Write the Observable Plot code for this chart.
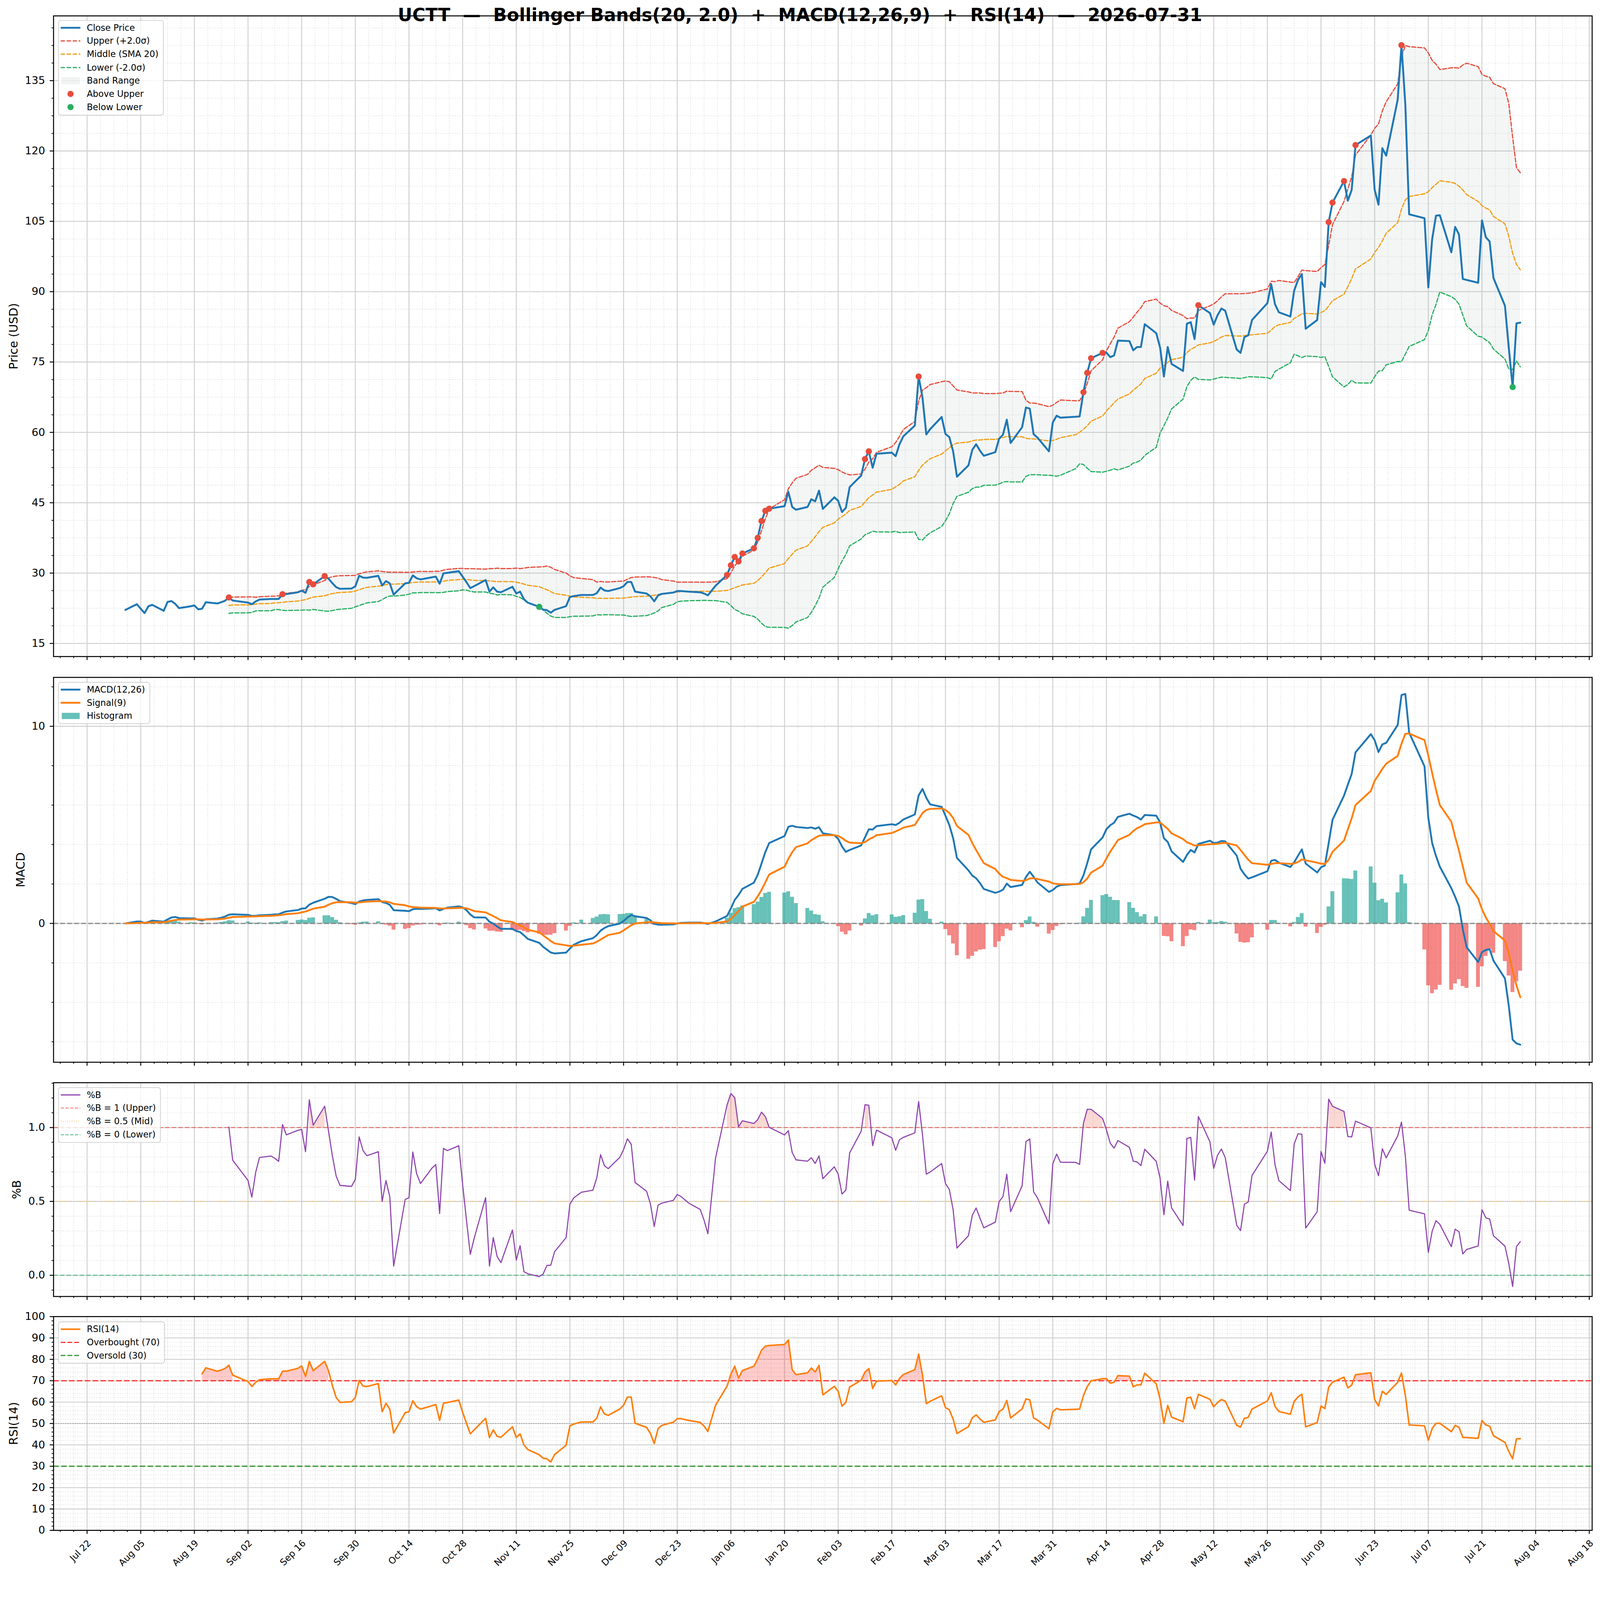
<!DOCTYPE html>
<html><head><meta charset="utf-8">
<script src="https://cdn.jsdelivr.net/npm/d3@7"></script>
<script src="https://cdn.jsdelivr.net/npm/@observablehq/plot@0.6"></script>
<style>
html,body{margin:0;padding:0;background:#fff;overflow:hidden;}
#fig{position:relative;width:4378px;height:4322px;font-family:"DejaVu Sans",sans-serif;overflow:hidden;background:#fff;transform-origin:0 0;}
.legend{position:absolute;left:159px;background:rgba(255,255,255,0.8);border:2.5px solid #d0d0d0;border-radius:7px;padding:0.5px 12px 2px 4.5px;font-size:24px;line-height:1;z-index:5;color:#000;}
.lrow{display:flex;align-items:center;height:36.3px;white-space:nowrap;}
.lrow svg{flex:none;margin-right:18px;display:block;}
#title{position:absolute;left:0;top:17px;width:4378px;text-align:center;font-weight:bold;font-size:49px;line-height:49px;white-space:pre;z-index:10;color:#000;}
</style>
</head><body><div id="fig"></div>
<script>
// ---------------- data ----------------
const closeAug = [22.14,23.36,22.40,21.48,22.92,23.23,21.95,23.83,24.04,23.44,22.53,22.92,23.10,22.27,22.40,23.78,23.52,23.78,24.10,24.80,24.14];
const closeSep = [23.70,23.36,23.96,24.35,24.48,24.48,24.48,25.50,25.52,25.90,26.25,25.78,28.10,27.60,29.35,28.80,27.86,27.00,26.64,26.70,27.16];
const closeOct = [29.43,29.04,29.00,29.40,27.34,28.30,27.80,25.40,27.80,27.94,29.50,28.90,28.65,29.10,29.25,27.73,29.95,30.05,30.40,29.24,28.07,26.80,27.20];
const closeNov = [28.52,26.04,26.95,26.04,25.91,27.08,25.65,26.04,24.43,23.70,22.80,22.20,22.10,21.55,22.16,22.95,24.90,25.10,25.33];
const closeDec = [25.33,25.70,26.90,26.30,26.17,26.80,27.20,28.10,28.10,26.04,25.64,25.06,23.98,25.25,25.56,25.85,26.17,26.17,26.04,25.90,25.64,25.25];
const closeJan = [27.30,29.60,31.66,33.43,32.50,34.17,35.28,37.50,41.10,43.28,43.73,44.26,47.33,44.10,43.50,44.10,45.74,45.30,47.57,43.68];
const closeFeb = [46.15,45.40,43.00,43.90,48.34,50.78,54.30,55.95,52.47,55.44,55.68,54.93,57.47,59.16,61.45,71.90,67.43,59.56,60.68];
const closeMar = [63.28,59.66,59.00,55.95,50.54,52.97,56.28,57.47,56.10,55.00,55.78,58.65,59.50,62.70,57.74,61.10,65.30,65.07,59.60,58.90,55.95,62.10];
const closeApr = [63.55,63.13,63.33,63.40,68.56,72.70,75.80,76.95,77.00,76.05,76.40,79.56,79.47,77.50,78.20,78.20,83.07,81.16,78.10,71.90,78.20];
const closeMay = [74.60,73.10,83.17,83.50,79.90,87.10,85.46,82.97,84.98,86.40,85.94,77.65,76.95,80.30,80.68,83.96,87.54,91.59,87.30,85.60];
const closeJun = [84.70,90.25,92.50,93.76,82.10,83.96,92.03,91.03,104.83,109.00,113.57,109.40,111.70,121.25,123.30,111.70,108.56,120.58,119.00,130.90,142.56];
const closeJul = [129.90,106.50,105.67,90.90,101.20,106.20,106.30,98.40,103.80,102.20,92.70,92.50,91.90,105.20,101.60,100.70,92.90,87.00,78.00,69.66,83.24,83.40];

const firstDay = "2025-08-01", lastDay = "2026-07-31";
const holidays = ["2025-09-01","2025-11-27","2025-12-25","2026-01-01","2026-01-19","2026-02-16","2026-04-03","2026-05-25","2026-06-19","2026-07-03"];

const priceTicks = [15,30,45,60,75,90,105,120,135];
const macdTicks = [0,10];
const pctbTicks = [0,0.5,1];
const rsiTicks = [0,10,20,30,40,50,60,70,80,90,100];
const dateTickStart = "2025-07-22"; // ticks every two weeks

const title = "UCTT  \u2014  Bollinger Bands(20, 2.0)  +  MACD(12,26,9)  +  RSI(14)  \u2014  2026-07-31";

// ---------------- derived series ----------------
const DAY = 864e5;
const close = [].concat(closeAug, closeSep, closeOct, closeNov, closeDec, closeJan, closeFeb, closeMar, closeApr, closeMay, closeJun, closeJul);
const dates = [];
for (let t = Date.parse(firstDay); t <= Date.parse(lastDay); t += DAY) {
  const d = new Date(t), wd = d.getUTCDay();
  if (wd === 0 || wd === 6) continue;
  if (holidays.includes(d.toISOString().slice(0, 10))) continue;
  dates.push(d);
}
const n = Math.min(dates.length, close.length);

function ema(arr, span) {
  const a = 2 / (span + 1); const out = []; let prev;
  arr.forEach((v, i) => { prev = i === 0 ? v : a * v + (1 - a) * prev; out.push(prev); });
  return out;
}
const rows = [];
for (let i = 0; i < n; i++) rows.push({date: dates[i], close: close[i]});
for (let i = 0; i < n; i++) {
  const r = rows[i];
  if (i >= 19) {
    const w = close.slice(i - 19, i + 1);
    const m = d3.mean(w);
    const sd = Math.sqrt(d3.sum(w, v => (v - m) ** 2) / 19);
    r.mid = m; r.upper = m + 2 * sd; r.lower = m - 2 * sd;
    r.pctb = (r.close - r.lower) / (r.upper - r.lower);
  } else { r.mid = NaN; r.upper = NaN; r.lower = NaN; r.pctb = NaN; }
}
const e12 = ema(close.slice(0, n), 12), e26 = ema(close.slice(0, n), 26);
const macd = e12.map((v, i) => v - e26[i]);
const sig = ema(macd, 9);
rows.forEach((r, i) => { r.macd = macd[i]; r.signal = sig[i]; r.hist = macd[i] - sig[i]; });
{
  let g = 0, l = 0;
  rows[0].rsi = NaN;
  for (let i = 1; i < n; i++) {
    const d = close[i] - close[i - 1];
    const gain = Math.max(d, 0), loss = Math.max(-d, 0);
    if (i === 1) { g = gain; l = loss; } else { g = g * 13 / 14 + gain / 14; l = l * 13 / 14 + loss / 14; }
    rows[i].rsi = i >= 14 ? (l === 0 ? 100 : 100 - 100 / (1 + g / l)) : NaN;
  }
}
const above = rows.filter(r => r.close > r.upper);
const below = rows.filter(r => r.close < r.lower);

// ---------------- layout ----------------
const W = 4378, H = 4322, ML = 146, MR = 22;
const FONT = "DejaVu Sans";
const pad = 18.75 * DAY;
const xDomain = [new Date(+dates[0] - pad), new Date(+dates[n - 1] + pad)];
const t0 = Date.parse(dateTickStart);
const dateTicks = d3.range(0, 29).map(i => new Date(t0 + i * 14 * DAY)).filter(d => d >= xDomain[0] && d <= xDomain[1]);
const xMinor = d3.range(-3, 114).filter(k => k % 4 !== 0).map(k => new Date(t0 + k * 3.5 * DAY)).filter(d => d >= xDomain[0] && d <= xDomain[1]);

function minorTicks(dom, step, majorStep) {
  const out = [];
  for (let k = Math.ceil(dom[0] / step - 1e-9); k * step <= dom[1] + 1e-9; k++) {
    const v = +(k * step).toFixed(6);
    if (Math.abs(v / majorStep - Math.round(v / majorStep)) > 1e-6) out.push(v);
  }
  return out;
}
const inDom = (arr, dom) => arr.filter(v => v >= dom[0] && v <= dom[1]);

const majorGrid = {stroke: "#cfcfcf", strokeWidth: 2.5};
const minorGrid = {stroke: "#e0e0e0", strokeWidth: 2, strokeDasharray: "2.5,4"};

function baseMarks(yDom, yMajor, yMinor, yFmt, ylabel, labelDx, xLabels) {
  const m = [
    Plot.ruleX(xMinor, minorGrid),
    Plot.ruleY(yMinor, minorGrid),
    Plot.ruleX(dateTicks, majorGrid),
    Plot.ruleY(inDom(yMajor, yDom), majorGrid),
  ];
  const axes = [
    Plot.axisY(yMinor, {tickSize: 5, strokeWidth: 2, fill: "none", label: null}),
    Plot.axisY(inDom(yMajor, yDom), {tickSize: 10, strokeWidth: 2.5, tickPadding: 13, fontSize: 29, tickFormat: yFmt, label: null}),
    Plot.axisX(xMinor, {tickSize: 5, strokeWidth: 2, fill: "none", label: null}),
    xLabels
      ? Plot.axisX(dateTicks, {tickSize: 10, strokeWidth: 2.5, tickPadding: 14, tickRotate: -45, textAnchor: "end", lineAnchor: "top", fontSize: 25, tickFormat: d3.utcFormat("%b %d"), label: null})
      : Plot.axisX(dateTicks, {tickSize: 10, strokeWidth: 2.5, fill: "none", label: null}),
    Plot.text([ylabel], {frameAnchor: "left", text: d => d, rotate: -90, dx: labelDx, fontSize: 32, textAnchor: "middle", lineAnchor: "middle"}),
  ];
  return {grid: m, axes};
}

const fig = document.getElementById("fig");
function addPlot(top, height, mt, mb, yDom, marks) {
  const p = Plot.plot({
    width: W, height, marginLeft: ML, marginRight: MR, marginTop: mt, marginBottom: mb,
    x: {type: "utc", domain: xDomain, axis: null},
    y: {domain: yDom, axis: null},
    style: {fontFamily: FONT, background: "transparent", overflow: "visible", color: "#000"},
    marks
  });
  p.style.position = "absolute"; p.style.left = "0px"; p.style.top = top + "px";
  p.style.maxWidth = "none";
  fig.appendChild(p);
}

// ---- Panel 1: price + Bollinger ----
{
  const yDom = [12.2, 148.8];
  const b = baseMarks(yDom, priceTicks, minorTicks(yDom, 3.75, 15), d => String(d), "Price (USD)", -109, false);
  addPlot(0, 1830, 43, 34, yDom, [
    ...b.grid,
    Plot.areaY(rows, {x: "date", y1: "lower", y2: "upper", fill: "#95a5a6", fillOpacity: 0.1}),
    Plot.line(rows, {x: "date", y: "upper", stroke: "#e74c3c", strokeWidth: 3.2, strokeDasharray: "11.5,5"}),
    Plot.line(rows, {x: "date", y: "mid", stroke: "#f39c12", strokeWidth: 3.2, strokeDasharray: "11.5,5"}),
    Plot.line(rows, {x: "date", y: "lower", stroke: "#27ae60", strokeWidth: 3.2, strokeDasharray: "11.5,5"}),
    Plot.line(rows, {x: "date", y: "close", stroke: "#1f77b4", strokeWidth: 5.2}),
    Plot.dot(above, {x: "date", y: "close", r: 8.5, fill: "#e74c3c", stroke: "none"}),
    Plot.dot(below, {x: "date", y: "close", r: 8.5, fill: "#27ae60", stroke: "none"}),
    ...b.axes,
    Plot.frame({stroke: "#000", strokeWidth: 2.7})
  ]);
}
// ---- Panel 2: MACD ----
{
  const yDom = [-7.04, 12.48];
  const b = baseMarks(yDom, macdTicks, minorTicks(yDom, 2, 10), d => String(d), "MACD", -89, false);
  const half = DAY / 2;
  addPlot(1830, 1100, 23, 24, yDom, [
    ...b.grid,
    Plot.rectY(rows, {x1: d => new Date(+d.date - half), x2: d => new Date(+d.date + half), y1: 0, y2: "hist", fill: d => d.hist >= 0 ? "#26a69a" : "#ef5350", fillOpacity: 0.7}),
    Plot.ruleY([0], {stroke: "#808080", strokeOpacity: 0.9, strokeWidth: 3, strokeDasharray: "13,6"}),
    Plot.line(rows, {x: "date", y: "macd", stroke: "#1f77b4", strokeWidth: 5}),
    Plot.line(rows, {x: "date", y: "signal", stroke: "#ff7f0e", strokeWidth: 5}),
    ...b.axes,
    Plot.frame({stroke: "#000", strokeWidth: 2.7})
  ]);
}
// ---- Panel 3: %B ----
{
  const yDom = [-0.1434, 1.3036];
  const b = baseMarks(yDom, pctbTicks, minorTicks(yDom, 0.1, 0.5), d3.format(".1f"), "%B", -100, false);
  addPlot(2930, 650, 32, 33, yDom, [
    ...b.grid,
    Plot.areaY(rows, {x: "date", y1: 1, y2: d => d.pctb > 1 ? d.pctb : NaN, fill: "#e74c3c", fillOpacity: 0.22}),
    Plot.areaY(rows, {x: "date", y1: 0, y2: d => d.pctb < 0 ? d.pctb : NaN, fill: "#27ae60", fillOpacity: 0.22}),
    Plot.ruleY([1], {stroke: "#e74c3c", strokeOpacity: 0.7, strokeWidth: 2.5, strokeDasharray: "12,6"}),
    Plot.ruleY([0.5], {stroke: "#f39c12", strokeOpacity: 0.6, strokeWidth: 2.2, strokeDasharray: "2,4"}),
    Plot.ruleY([0], {stroke: "#27ae60", strokeOpacity: 0.7, strokeWidth: 2.5, strokeDasharray: "12,6"}),
    Plot.line(rows, {x: "date", y: "pctb", stroke: "#8e44ad", strokeWidth: 3}),
    ...b.axes,
    Plot.frame({stroke: "#000", strokeWidth: 2.7})
  ]);
}
// ---- Panel 4: RSI ----
{
  const yDom = [0, 100];
  const b = baseMarks(yDom, rsiTicks, minorTicks(yDom, 2, 10), d => String(d), "RSI(14)", -109, true);
  addPlot(3580, 742, 22, 135, yDom, [
    ...b.grid,
    Plot.areaY(rows, {x: "date", y1: 70, y2: d => d.rsi > 70 ? d.rsi : NaN, fill: "red", fillOpacity: 0.2}),
    Plot.areaY(rows, {x: "date", y1: 30, y2: d => d.rsi < 30 ? d.rsi : NaN, fill: "green", fillOpacity: 0.2}),
    Plot.ruleY([50], {stroke: "#808080", strokeOpacity: 0.7, strokeWidth: 2.5, strokeDasharray: "2.5,4"}),
    Plot.ruleY([70], {stroke: "red", strokeOpacity: 0.8, strokeWidth: 3.2, strokeDasharray: "15,6.5"}),
    Plot.ruleY([30], {stroke: "green", strokeOpacity: 0.8, strokeWidth: 3.2, strokeDasharray: "15,6.5"}),
    Plot.line(rows, {x: "date", y: "rsi", stroke: "#ff7f0e", strokeWidth: 4.2}),
    ...b.axes,
    Plot.frame({stroke: "#000", strokeWidth: 2.7})
  ]);
}

// ---------------- legends & title ----------------
const hLine = (c, w, dash, op) => `<line x1="0" x2="54" y1="18" y2="18" stroke="${c}" stroke-width="${w}"${dash ? ` stroke-dasharray="${dash}"` : ""}${op ? ` stroke-opacity="${op}"` : ""}/>`;
const hDot = c => `<circle cx="27" cy="18" r="8.5" fill="${c}"/>`;
const hRect = (c, op) => `<rect x="3" y="9" width="49" height="18" fill="${c}" fill-opacity="${op}" stroke="${c}" stroke-opacity="${op}"/>`;
function legend(top, items) {
  const box = document.createElement("div");
  box.className = "legend"; box.style.top = top + "px";
  items.forEach(([h, label]) => {
    const row = document.createElement("div"); row.className = "lrow";
    row.innerHTML = `<svg width="54" height="36" viewBox="0 0 54 36">${h}</svg>`;
    const s = document.createElement("span"); s.textContent = label; row.appendChild(s);
    box.appendChild(row);
  });
  fig.appendChild(box);
}
legend(55, [
  [hLine("#1f77b4", 5.2), "Close Price"],
  [hLine("#e74c3c", 3.2, "11.5,5"), "Upper (+2.0\u03c3)"],
  [hLine("#f39c12", 3.2, "11.5,5"), "Middle (SMA 20)"],
  [hLine("#27ae60", 3.2, "11.5,5"), "Lower (-2.0\u03c3)"],
  [hRect("#95a5a6", 0.12), "Band Range"],
  [hDot("#e74c3c"), "Above Upper"],
  [hDot("#27ae60"), "Below Lower"]
]);
legend(1866, [
  [hLine("#1f77b4", 5), "MACD(12,26)"],
  [hLine("#ff7f0e", 5), "Signal(9)"],
  [`<rect x="3" y="9.5" width="49" height="17" fill="#26a69a" fill-opacity="0.7"/>`, "Histogram"]
]);
legend(2975, [
  [hLine("#8e44ad", 3), "%B"],
  [hLine("#e74c3c", 2.5, "9,4", 0.7), "%B = 1 (Upper)"],
  [hLine("#f39c12", 2.2, "2,4", 0.6), "%B = 0.5 (Mid)"],
  [hLine("#27ae60", 2.5, "9,4", 0.7), "%B = 0 (Lower)"]
]);
legend(3616, [
  [hLine("#ff7f0e", 4.2), "RSI(14)"],
  [hLine("red", 3.2, "13,5.5", 0.8), "Overbought (70)"],
  [hLine("green", 3.2, "13,5.5", 0.8), "Oversold (30)"]
]);
const tdiv = document.createElement("div");
tdiv.id = "title"; tdiv.textContent = title;
fig.appendChild(tdiv);

// fit the 4378x4322 figure into the actual viewport
function fit() {
  const vw = window.innerWidth || document.documentElement.clientWidth || W;
  const vh = window.innerHeight || document.documentElement.clientHeight || H;
  const s = Math.min(vw / W, vh / H);
  fig.style.transform = s < 0.999 || s > 1.001 ? `scale(${s})` : "";
}
fit();
window.addEventListener("resize", fit);
</script></body></html>
